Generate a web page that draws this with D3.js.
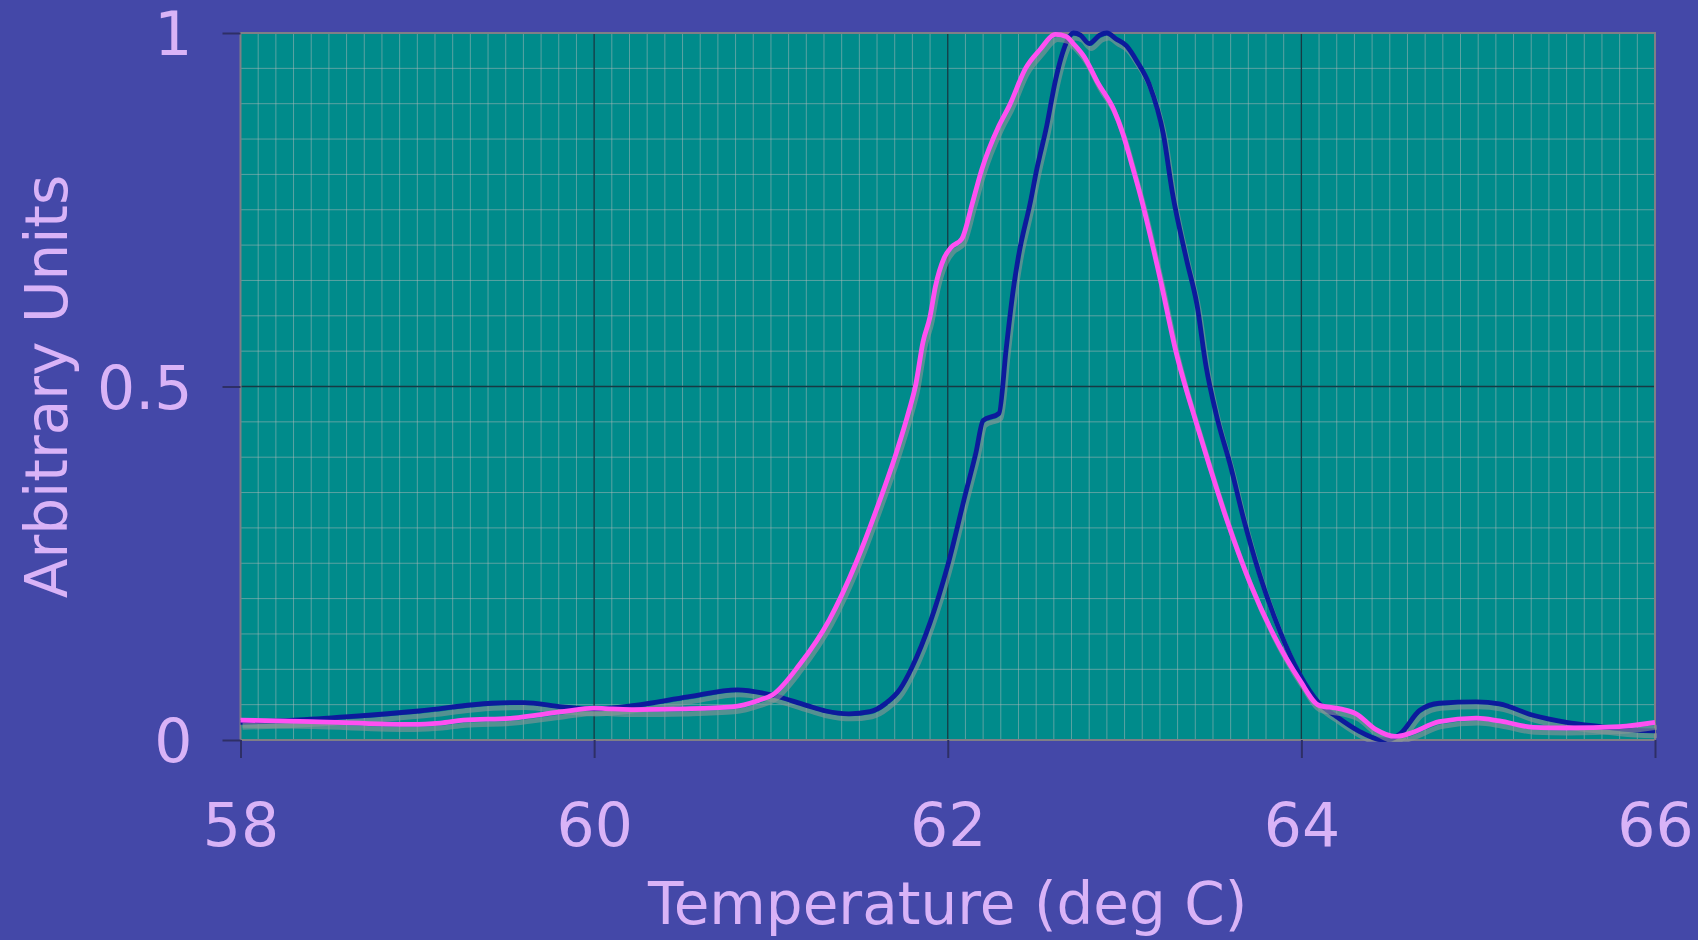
<!DOCTYPE html>
<html>
<head>
<meta charset="utf-8">
<script src="https://cdn.jsdelivr.net/npm/d3@7"></script>
<style>
  html, body { margin: 0; padding: 0; background: #4448a8; overflow: hidden; }
  text { font-family: "DejaVu Sans", Verdana, sans-serif; fill: #d9b3f7; }
</style>
</head>
<body>
<div id="chart"></div>
<script>
// melt curve data
var tempBlue = [58.00, 58.30, 58.61, 59.01, 59.42, 59.60, 59.82, 60.00, 60.23, 60.53, 60.81, 61.00, 61.20, 61.31, 61.44, 61.56, 61.65, 61.73, 61.80, 61.90, 62.00, 62.10, 62.16, 62.20, 62.29, 62.33, 62.37, 62.40, 62.47, 62.50, 62.56, 62.61, 62.67, 62.71, 62.75, 62.80, 62.86, 62.90, 62.95, 63.01, 63.07, 63.14, 63.22, 63.27, 63.35, 63.41, 63.46, 63.52, 63.60, 63.67, 63.76, 63.88, 63.99, 64.10, 64.20, 64.33, 64.42, 64.48, 64.56, 64.67, 64.78, 64.99, 65.12, 65.31, 65.50, 65.69, 65.88, 66.00];
var valBlue = [0.025, 0.028, 0.033, 0.041, 0.052, 0.053, 0.047, 0.044, 0.049, 0.061, 0.071, 0.064, 0.049, 0.041, 0.037, 0.040, 0.052, 0.072, 0.104, 0.166, 0.247, 0.348, 0.407, 0.452, 0.462, 0.552, 0.636, 0.684, 0.764, 0.803, 0.869, 0.934, 0.986, 1.000, 0.997, 0.985, 0.997, 1.000, 0.992, 0.982, 0.960, 0.927, 0.856, 0.775, 0.680, 0.615, 0.530, 0.459, 0.387, 0.316, 0.237, 0.153, 0.093, 0.052, 0.033, 0.012, 0.002, 0.000, 0.009, 0.042, 0.052, 0.054, 0.051, 0.035, 0.025, 0.019, 0.014, 0.013];

var tempPink = [58.00, 58.40, 58.97, 59.13, 59.26, 59.54, 59.82, 60.00, 60.10, 60.23, 60.50, 60.78, 60.93, 61.01, 61.16, 61.33, 61.48, 61.61, 61.71, 61.78, 61.82, 61.86, 61.90, 61.93, 61.98, 62.02, 62.08, 62.14, 62.19, 62.29, 62.35, 62.44, 62.52, 62.61, 62.67, 62.71, 62.77, 62.85, 62.94, 62.99, 63.04, 63.09, 63.20, 63.29, 63.41, 63.48, 63.58, 63.71, 63.84, 63.99, 64.10, 64.22, 64.31, 64.42, 64.53, 64.61, 64.78, 64.99, 65.12, 65.31, 65.50, 65.80, 66.00];
var valPink = [0.028, 0.026, 0.022, 0.024, 0.028, 0.031, 0.040, 0.045, 0.044, 0.043, 0.044, 0.047, 0.056, 0.064, 0.106, 0.170, 0.250, 0.335, 0.407, 0.465, 0.504, 0.563, 0.599, 0.641, 0.682, 0.697, 0.709, 0.760, 0.805, 0.869, 0.898, 0.950, 0.976, 0.998, 0.995, 0.985, 0.967, 0.929, 0.891, 0.858, 0.815, 0.770, 0.654, 0.550, 0.445, 0.388, 0.310, 0.222, 0.150, 0.085, 0.049, 0.044, 0.037, 0.015, 0.005, 0.009, 0.026, 0.031, 0.027, 0.018, 0.017, 0.019, 0.025];

var xTicks = [58, 60, 62, 64, 66];
var yTicks = [0, 0.5, 1];
var yTickLabels = ["0", "0.5", "1"];

var margin = {top: 33, right: 43, bottom: 200, left: 240.5},
    width = 1698 - margin.left - margin.right,
    height = 940 - margin.top - margin.bottom;

var svg = d3.select("#chart").append("svg")
    .attr("width", 1698)
    .attr("height", 940);

svg.append("rect")
    .attr("width", 1698).attr("height", 940)
    .attr("fill", "#4448a8");

var g = svg.append("g")
    .attr("transform", "translate(" + margin.left + "," + margin.top + ")");

var xScale = d3.scaleLinear().domain([58, 66]).range([0, width]);
var yScale = d3.scaleLinear().domain([0, 1]).range([height, 0]);

g.append("rect")
    .attr("width", width).attr("height", height)
    .attr("fill", "#008b8b");

// minor grid
var minorX = d3.range(581, 660).map(d => d / 10).filter(d => xTicks.indexOf(d) < 0);
var minorY = d3.range(1, 20).map(d => d / 20).filter(d => d != 0.5);

g.append("g").selectAll("line")
    .data(minorX).enter().append("line")
    .attr("x1", d => xScale(d)).attr("x2", d => xScale(d))
    .attr("y1", 0).attr("y2", height)
    .attr("stroke", "#b4bcbc").attr("stroke-opacity", 0.5).attr("stroke-width", 1);

g.append("g").selectAll("line")
    .data(minorY).enter().append("line")
    .attr("x1", 0).attr("x2", width)
    .attr("y1", d => yScale(d)).attr("y2", d => yScale(d))
    .attr("stroke", "#b4bcbc").attr("stroke-opacity", 0.5).attr("stroke-width", 1);

// major grid
g.append("g").selectAll("line")
    .data([60, 62, 64]).enter().append("line")
    .attr("x1", d => xScale(d)).attr("x2", d => xScale(d))
    .attr("y1", 0).attr("y2", height)
    .attr("stroke", "#173a44").attr("stroke-width", 1.3);

g.append("line")
    .attr("x1", 0).attr("x2", width)
    .attr("y1", yScale(0.5)).attr("y2", yScale(0.5))
    .attr("stroke", "#173a44").attr("stroke-width", 1.3);

// border
g.append("rect")
    .attr("width", width).attr("height", height)
    .attr("fill", "none").attr("stroke", "#7f7f86").attr("stroke-width", 2);

// axes
var xAxis = d3.axisBottom(xScale).tickValues(xTicks).tickSize(18).tickPadding(45).tickFormat(d => d);
var yAxis = d3.axisLeft(yScale).tickValues(yTicks).tickSize(18).tickPadding(30).tickFormat((d, i) => yTickLabels[i]);

var gx = g.append("g")
    .attr("transform", "translate(0," + height + ")")
    .call(xAxis);
var gy = g.append("g").call(yAxis);

[gx, gy].forEach(function(a) {
    a.select(".domain").remove();
    a.selectAll(".tick line").attr("stroke", "#2e2f66").attr("stroke-width", 2);
    a.selectAll(".tick text")
        .attr("fill", "#d9b3f7")
        .style("font-family", "'DejaVu Sans', Verdana, sans-serif")
        .style("font-size", "60px");
});
gx.selectAll(".tick text").attr("dy", "0.71em");
gy.selectAll(".tick text").attr("dy", "0.36em");

// curves
var line = d3.line()
    .x(d => xScale(d[0]))
    .y(d => yScale(d[1]))
    .curve(d3.curveMonotoneX);

var blue = tempBlue.map((t, i) => [t, valBlue[i]]);
var pink = tempPink.map((t, i) => [t, valPink[i]]);

g.append("clipPath").attr("id", "clip")
    .append("rect").attr("x", -2).attr("y", -4).attr("width", width + 4).attr("height", height + 6);

var curves = g.append("g").attr("clip-path", "url(#clip)");

[[blue, "#0c1a9c"], [pink, "#ff50f2"]].forEach(function(s) {
    curves.append("path")
        .datum(s[0])
        .attr("transform", "translate(2,5)")
        .attr("d", line)
        .attr("fill", "none")
        .attr("stroke", "#8c9696")
        .attr("stroke-opacity", 0.6)
        .attr("stroke-width", 5);
    curves.append("path")
        .datum(s[0])
        .attr("d", line)
        .attr("fill", "none")
        .attr("stroke", s[1])
        .attr("stroke-width", 4.8)
        .attr("stroke-linejoin", "round");
});

// titles
svg.append("text")
    .attr("x", margin.left + width / 2)
    .attr("y", 924)
    .attr("text-anchor", "middle")
    .style("font-size", "58px")
    .text("Temperature (deg C)");

svg.append("text")
    .attr("transform", "translate(67," + (margin.top + height / 2) + ") rotate(-90)")
    .attr("text-anchor", "middle")
    .style("font-size", "58px")
    .text("Arbitrary Units");
</script>
</body>
</html>
